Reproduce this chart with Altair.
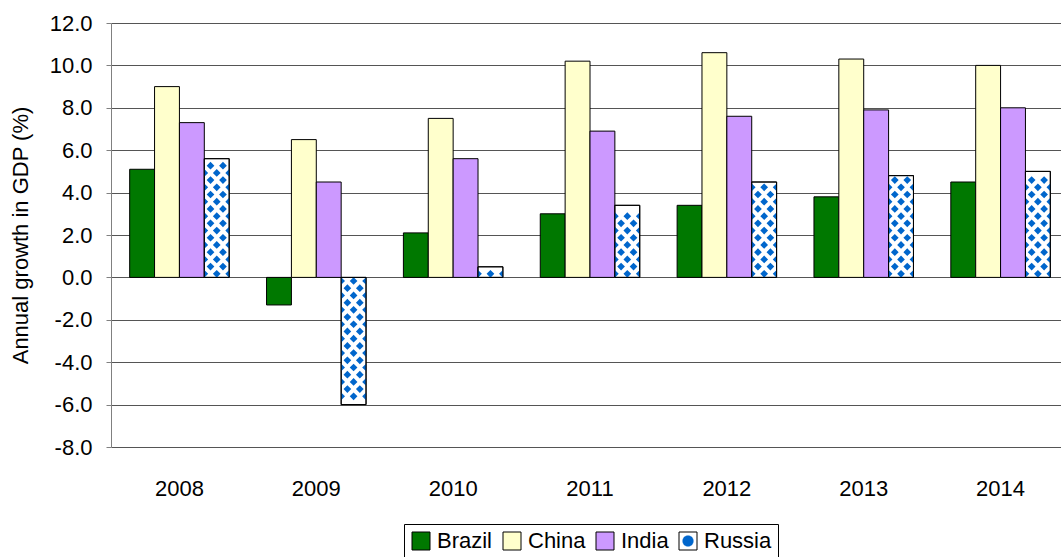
import altair as alt
import pandas as pd

# Annual GDP growth (%) for the BRIC economies
years = ["2008", "2009", "2010", "2011", "2012", "2013", "2014"]
series = ["Brazil", "China", "India", "Russia"]
brazil = [5.1, -1.3, 2.1, 3.0, 3.4, 3.8, 4.5]
china = [9.0, 6.5, 7.5, 10.2, 10.6, 10.3, 10.0]
india = [7.3, 4.5, 5.6, 6.9, 7.6, 7.9, 8.0]
russia = [5.6, -6.0, 0.5, 3.4, 4.5, 4.8, 5.0]
y_ticks = [-8, -6, -4, -2, 0, 2, 4, 6, 8, 10, 12]

FONT = "Liberation Sans"
FS = 22
BLUE = "#0066cc"

# Russia's swatch: a blue spot on white, matching the patterned bars
russia_swatch = {
    "expr": "{gradient: 'radial', x1: 0.5, y1: 0.5, r1: 0, x2: 0.5, y2: 0.5, r2: 0.5,"
            " stops: [{offset: 0, color: '#0066cc'}, {offset: 0.55, color: '#0066cc'},"
            " {offset: 0.68, color: '#ffffff'}, {offset: 1, color: '#ffffff'}]}"
}
colors = ["#007800", "#ffffcc", "#cc99ff", russia_swatch]

rows = []
for name, vals in zip(series, [brazil, china, india, russia]):
    for yr, v in zip(years, vals):
        rows.append({"year": yr, "series": name, "value": v})
df = pd.DataFrame(rows)

# Diamond fill pattern for the Russia bars: alternating rows of diamonds,
# repeated from the zero line out to each bar's end.
ROW_STEP = 0.34
HALF_H = 0.18
pat = []
for yr, v in zip(years, russia):
    sgn = 1 if v >= 0 else -1
    k = 0
    while (k + 0.5) * ROW_STEP + HALF_H <= abs(v):
        pat.append({"year": yr, "series": "Russia",
                    "y": sgn * (k + 0.5) * ROW_STEP,
                    "row": "a" if k % 2 == 0 else "b"})
        k += 1
pat_df = pd.DataFrame(pat)

d = 0.31
row_a = (f"M-1,{-d}L{-1 + d},0L-1,{d}Z"
         f"M0,{-d}L{d},0L0,{d}L{-d},0Z"
         f"M1,{-d}L{1 - d},0L1,{d}Z")
row_b = (f"M-0.5,{-d}L{-0.5 + d},0L-0.5,{d}L{-0.5 - d},0Z"
         f"M0.5,{-d}L{0.5 + d},0L0.5,{d}L{0.5 - d},0Z")

x_scale = alt.Scale(domain=years, range=[0, 958], paddingInner=0.273, paddingOuter=0.1365)
off_scale = alt.Scale(domain=series)
y_scale = alt.Scale(domain=[-8, 12], nice=False)

x_enc = alt.X("year:N", scale=x_scale, title=None,
              axis=alt.Axis(domain=False, ticks=False, labelPadding=31,
                            labelAngle=0, labelFontSize=FS, grid=False))
y_enc = alt.Y("value:Q", scale=y_scale, title="Annual growth in GDP (%)",
              axis=alt.Axis(values=y_ticks, format=".1f",
                            labelExpr="replace(datum.label, '\u2212', '-')",
                            labelFontSize=FS, tickSize=5, labelPadding=14,
                            titleFontSize=FS, titleFontWeight="normal", titlePadding=17))

legend = alt.Legend(
    title=None, orient="none", direction="horizontal",
    legendX=293, legendY=501,
    symbolType="square", symbolSize=324, symbolOpacity=1,
    symbolStrokeColor="black", symbolStrokeWidth=1,
    labelFontSize=FS, labelFont=FONT, labelOffset=5,
    columnPadding=8, padding=6,
    strokeColor="black", fillColor="white", cornerRadius=0,
)

bars = alt.Chart(df).mark_bar(stroke="black", strokeWidth=1, opacity=1).encode(
    x=x_enc,
    xOffset=alt.XOffset("series:N", scale=off_scale),
    y=y_enc,
    fill=alt.condition(
        "datum.series === 'Russia'",
        alt.value("white"),
        alt.Fill("series:N", scale=alt.Scale(domain=series, range=colors), legend=legend),
    ),
)

pattern = alt.Chart(pat_df).mark_point(
    filled=True, opacity=1, size=620, color=BLUE, strokeWidth=0
).encode(
    x=alt.X("year:N", scale=x_scale),
    xOffset=alt.XOffset("series:N", scale=off_scale),
    y=alt.Y("y:Q", scale=y_scale),
    shape=alt.Shape("row:N", scale=alt.Scale(domain=["a", "b"], range=[row_a, row_b]),
                    legend=None),
)

outline = alt.Chart(df[df["series"] == "Russia"]).mark_bar(
    fillOpacity=0, stroke="black", strokeWidth=1
).encode(
    x=alt.X("year:N", scale=x_scale),
    xOffset=alt.XOffset("series:N", scale=off_scale),
    y=alt.Y("value:Q", scale=y_scale),
)

chart = alt.layer(bars, pattern, outline).properties(
    width=950, height=424,
    autosize=alt.AutoSizeParams(type="none"),
    padding={"left": 111, "top": 23, "right": 0, "bottom": 110},
    background="white",
).configure(font=FONT).configure_view(strokeWidth=0).configure_axis(
    labelFont=FONT, titleFont=FONT, labelColor="black", titleColor="black",
    gridColor="#555555", gridWidth=1, domainColor="#808080", tickColor="#808080",
)

chart.save("out.html", embed_options={"renderer": "svg", "actions": False})
